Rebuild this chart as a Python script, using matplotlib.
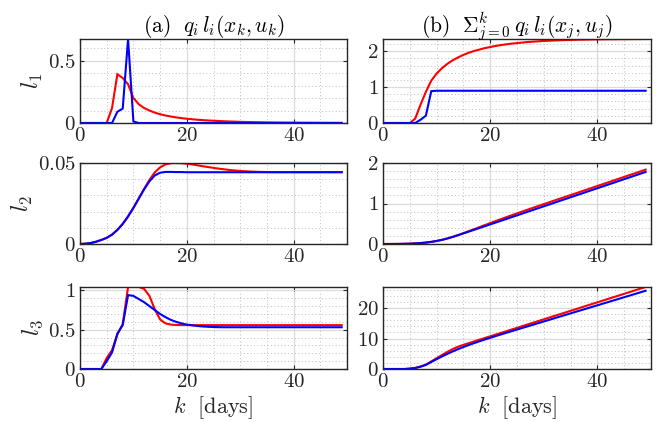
import numpy as np
import matplotlib
matplotlib.use("Agg")
import matplotlib.pyplot as plt
from matplotlib.ticker import MultipleLocator

plt.rcParams['mathtext.fontset'] = 'cm'
plt.rcParams['font.family'] = 'serif'
plt.rcParams['font.serif'] = ['cmr10', 'DejaVu Serif']
plt.rcParams['axes.unicode_minus'] = False

# ---------------- data ----------------
k = list(range(50))

# (a) per-step costs
l1_red = [0, 0, 0, 0, 0, 0.0, 0.12, 0.39, 0.36, 0.31, 0.20, 0.15, 0.12, 0.10, 0.083,
          0.07, 0.06, 0.052, 0.045, 0.039, 0.034, 0.030, 0.026, 0.023, 0.020, 0.018,
          0.016, 0.014, 0.012, 0.011, 0.009, 0.008, 0.0072, 0.0065, 0.0058, 0.005,
          0.0045, 0.004, 0.0036, 0.0033, 0.003, 0.0027, 0.0024, 0.0022, 0.002,
          0.0018, 0.0016, 0.0015, 0.0014, 0.0013]
l1_blue = [0, 0, 0, 0, 0, 0, 0, 0.09, 0.115, 0.672, 0.012] + [0] * 39

l2_blue = [0, 0.0002, 0.0006, 0.0014, 0.0025, 0.0038, 0.0058, 0.0087, 0.0124, 0.0170,
           0.0223, 0.0280, 0.0337, 0.0387, 0.0423, 0.0440, 0.0445, 0.0445, 0.0444,
           0.0444] + [0.0443] * 30
l2_red = [0, 0.0002, 0.0006, 0.0014, 0.0025, 0.0038, 0.0058, 0.0087, 0.0124, 0.0170,
          0.0223, 0.0281, 0.0340, 0.0395, 0.0442, 0.0473, 0.0491, 0.0499, 0.0500,
          0.0499, 0.0496, 0.0491, 0.0486, 0.0480, 0.0475, 0.0470, 0.0465, 0.0461,
          0.0457, 0.0454, 0.0451, 0.0449, 0.0447, 0.0446, 0.0445, 0.0444] + [0.0444] * 14

l3_red = [0, 0, 0, 0, 0, 0.14, 0.24, 0.44, 0.57, 1.043, 1.043, 1.043, 1.02, 0.93,
          0.76, 0.63, 0.58, 0.565, 0.56, 0.558] + [0.558] * 30
l3_blue = [0, 0, 0, 0, 0, 0.10, 0.21, 0.45, 0.56, 0.94, 0.93, 0.89, 0.85, 0.80,
           0.75, 0.70, 0.66, 0.625, 0.60, 0.58, 0.565, 0.555, 0.547, 0.541, 0.537,
           0.534, 0.532] + [0.531] * 23

# (b) cumulative costs
c1_red = [0, 0, 0, 0, 0, 0, 0.12, 0.51, 0.87, 1.18, 1.38, 1.53, 1.65, 1.75, 1.83,
          1.90, 1.96, 2.01, 2.05, 2.09, 2.12, 2.15, 2.175, 2.195, 2.215, 2.23, 2.245,
          2.26, 2.27, 2.28, 2.29, 2.297, 2.303, 2.309, 2.314, 2.318, 2.322, 2.325,
          2.328, 2.331, 2.333, 2.335, 2.337, 2.338, 2.339, 2.340, 2.341, 2.342,
          2.343, 2.344]
c1_blue = [0, 0, 0, 0, 0, 0, 0, 0.09, 0.205, 0.888] + [0.9] * 40

c2_blue = [0, 0.0002, 0.0008, 0.0022, 0.0047, 0.0085, 0.0143, 0.023, 0.0354, 0.0524,
           0.0747, 0.1027, 0.1364, 0.1751, 0.2174, 0.2614, 0.3059, 0.3504, 0.3948,
           0.4392, 0.484, 0.529, 0.573, 0.618, 0.663, 0.707, 0.752, 0.797, 0.841,
           0.886, 0.931, 0.975, 1.020, 1.065, 1.109, 1.154, 1.199, 1.243, 1.288,
           1.333, 1.377, 1.422, 1.467, 1.511, 1.556, 1.601, 1.645, 1.690, 1.735, 1.779]
c2_red = [0, 0.0002, 0.0008, 0.0022, 0.0047, 0.0085, 0.0143, 0.023, 0.0354, 0.0524,
          0.0747, 0.1028, 0.1368, 0.1763, 0.2205, 0.2678, 0.3169, 0.3668, 0.4168,
          0.4667, 0.5163, 0.5654, 0.614, 0.662, 0.7095, 0.7565, 0.803, 0.849, 0.895,
          0.940, 0.985, 1.030, 1.075, 1.119, 1.164, 1.208, 1.253, 1.298, 1.343,
          1.388, 1.432, 1.477, 1.522, 1.567, 1.612, 1.657, 1.702, 1.747, 1.792, 1.837]

c3_red = [0, 0, 0, 0, 0, 0.14, 0.38, 0.82, 1.42, 2.47, 3.53, 4.58, 5.60, 6.55, 7.30,
          7.92, 8.49, 9.05, 9.61, 10.17, 10.72, 11.28, 11.84, 12.39, 12.95, 13.51,
          14.07, 14.63, 15.19, 15.74, 16.30, 16.86, 17.42, 17.97, 18.53, 19.09, 19.65,
          20.21, 20.77, 21.32, 21.88, 22.44, 23.00, 23.56, 24.11, 24.67, 25.23, 25.79,
          26.35, 26.90]
c3_blue = [0, 0, 0, 0, 0, 0.10, 0.31, 0.76, 1.35, 2.29, 3.22, 4.11, 4.96, 5.76, 6.51,
           7.21, 7.87, 8.49, 9.09, 9.67, 10.23, 10.79, 11.33, 11.87, 12.41, 12.94,
           13.47, 14.00, 14.53, 15.06, 15.59, 16.12, 16.66, 17.19, 17.72, 18.25,
           18.78, 19.31, 19.84, 20.37, 20.90, 21.43, 21.96, 22.49, 23.02, 23.55,
           24.08, 24.61, 25.14, 25.67]

xticks = [0, 20, 40]
titles = [r'$\mathrm{(a)}\ \ q_i\,l_i(x_k,u_k)$',
          r'$\mathrm{(b)}\ \ \Sigma_{j=0}^{k}\,q_i\,l_i(x_j,u_j)$']
ylabels = [r'$l_1$', r'$l_2$', r'$l_3$']
xlabel = r'$k\ \ [\mathrm{days}]$'

panels = [
    # (red, blue, yticks, yticklabels, minor step)
    (l1_red, l1_blue, [0, 0.5], ['0', '0.5'], 0.1),
    (c1_red, c1_blue, [0, 1, 2], ['0', '1', '2'], 0.2),
    (l2_red, l2_blue, [0, 0.05], ['0', '0.05'], 0.01),
    (c2_red, c2_blue, [0, 1, 2], ['0', '1', '2'], 0.2),
    (l3_red, l3_blue, [0, 0.5, 1], ['0', '0.5', '1'], 0.1),
    (c3_red, c3_blue, [0, 10, 20], ['0', '10', '20'], 2),
]
ylims = [(0, max(l1_blue)), (0, max(c1_red)), (0, 0.05), (0, 2),
         (0, max(l3_red)), (0, max(c3_red))]

W, H = 662, 422
fig = plt.figure(figsize=(W / 100, H / 100), dpi=100)
cols = [(80, 267), (383, 268)]
rows = [(39, 123), (163, 244), (287, 369)]

edge = (0.15, 0.15, 0.15)
for i, (red, blue, yt, ytl, mstep) in enumerate(panels):
    r, c = divmod(i, 2)
    x0, w = cols[c]
    t, b = rows[r]
    ax = fig.add_axes([x0 / W, 1 - b / H, w / W, (b - t) / H])
    ax.plot(k, red, color='#ff0000', lw=1.5, solid_joinstyle='miter')
    ax.plot(k, blue, color='#0000ff', lw=1.5, solid_joinstyle='miter')
    ax.set_xlim(0, 50)
    ax.set_ylim(*ylims[i])
    ax.set_xticks(xticks, labels=[f'${v}$' for v in xticks])
    ax.set_yticks(yt, labels=[f'${s}$' for s in ytl])
    ax.xaxis.set_minor_locator(MultipleLocator(5))
    ax.yaxis.set_minor_locator(MultipleLocator(mstep))
    ax.grid(True, which='major', color=(0.86, 0.86, 0.86), lw=0.9, ls='-')
    ax.grid(True, which='minor', color=(0.74, 0.74, 0.74), lw=0.7, ls=(0, (1, 2.5)))
    ax.set_axisbelow(True)
    ax.tick_params(which='major', direction='in', length=3, width=0.8,
                   top=True, right=True, labelsize=15, colors=edge, pad=3)
    ax.tick_params(which='minor', length=0)
    for s in ax.spines.values():
        s.set_color(edge)
        s.set_linewidth(1.0)
    if c == 0:
        ax.set_ylabel(ylabels[r], fontsize=17, color=edge, labelpad=2)
    if r == 0:
        ax.set_title(titles[c], fontsize=15.5, color='black', pad=5)
    if r == 2:
        ax.set_xlabel(xlabel, fontsize=16, color=edge, labelpad=2)

fig.savefig('out.png', dpi=100)
